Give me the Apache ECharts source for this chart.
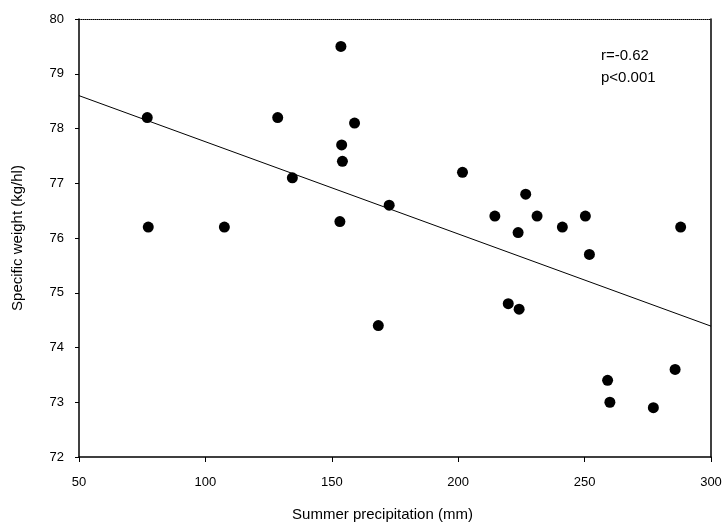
<!DOCTYPE html>
<html>
<head>
<meta charset="utf-8">
<script src="https://cdn.jsdelivr.net/npm/echarts@6/dist/echarts.min.js"></script>
<style>html,body{margin:0;padding:0;background:#fff;}#c{width:726px;height:529px;}</style>
</head>
<body>
<div id="c"></div>
<script>
var precipitation = [77, 77.4, 107.5, 128.6, 134.4, 153.6, 153.9, 154.2, 153.2, 159, 168.4, 172.7, 201.7, 214.5, 219.8, 223.7, 224.1, 226.7, 231.2, 241.2, 250.3, 251.9, 259.1, 260, 277.2, 285.8, 288];
var specificWeight = [78.2, 76.2, 76.2, 78.2, 77.1, 79.5, 77.7, 77.4, 76.3, 78.1, 74.4, 76.6, 77.2, 76.4, 74.8, 76.1, 74.7, 76.8, 76.4, 76.2, 76.4, 75.7, 73.4, 73.0, 72.9, 73.6, 76.2];
var fitX = [50, 300];
var fitY = [78.6, 74.39];
var xTicks = [50, 100, 150, 200, 250, 300];
var yTicks = [72, 73, 74, 75, 76, 77, 78, 79, 80];
var statsText = ['r=-0.62', 'p<0.001'];

var points = precipitation.map(function (x, i) { return [x, specificWeight[i]]; });
var fitLine = fitX.map(function (x, i) { return [x, fitY[i]]; });

var font = 'Liberation Sans, Arial, sans-serif';
var chart = echarts.init(document.getElementById('c'));
chart.setOption({
  animation: false,
  backgroundColor: '#fff',
  grid: { left: 79, right: 15, top: 19, bottom: 72 },
  xAxis: [{
    type: 'value', min: xTicks[0], max: xTicks[xTicks.length - 1], interval: 50,
    name: 'Summer precipitation (mm)', nameLocation: 'middle', nameGap: 50,
    nameTextStyle: { fontFamily: font, fontSize: 15, color: '#000', padding: [0, 25, 0, 0] },
    axisLine: { lineStyle: { color: '#000', width: 1.5 } },
    axisTick: { show: true, inside: false, length: 5, lineStyle: { color: '#000' } },
    axisLabel: { fontFamily: font, fontSize: 13, color: '#000', margin: 19 },
    splitLine: { show: false }
  }, {
    type: 'value', position: 'top', min: xTicks[0], max: xTicks[xTicks.length - 1],
    axisLine: { show: true, lineStyle: { color: '#000', width: 1, type: 'dotted' } },
    axisTick: { show: false }, axisLabel: { show: false }, splitLine: { show: false }
  }],
  yAxis: [{
    type: 'value', min: yTicks[0], max: yTicks[yTicks.length - 1], interval: 1,
    name: 'Specific weight (kg/hl)', nameLocation: 'middle', nameGap: 54,
    nameTextStyle: { fontFamily: font, fontSize: 15, color: '#000' },
    axisLine: { show: true, lineStyle: { color: '#000', width: 1.5 } },
    axisTick: { show: true, inside: false, length: 4, lineStyle: { color: '#000' } },
    axisLabel: { fontFamily: font, fontSize: 13, color: '#000', margin: 15 },
    splitLine: { show: false }
  }, {
    type: 'value', position: 'right', min: yTicks[0], max: yTicks[yTicks.length - 1],
    axisLine: { show: true, lineStyle: { color: '#000', width: 1.5 } },
    axisTick: { show: false }, axisLabel: { show: false }, splitLine: { show: false }
  }],
  series: [{
    type: 'line', data: fitLine, symbol: 'none', silent: true,
    lineStyle: { color: '#000', width: 1 }
  }, {
    type: 'scatter', data: points, symbol: 'circle', symbolSize: 11,
    itemStyle: { color: '#000', opacity: 1 }
  }],
  graphic: [{
    type: 'text', left: 601, top: 45,
    style: { text: statsText.join('\n'), font: '15px ' + font, fill: '#000', lineHeight: 22 }
  }]
});
</script>
</body>
</html>
